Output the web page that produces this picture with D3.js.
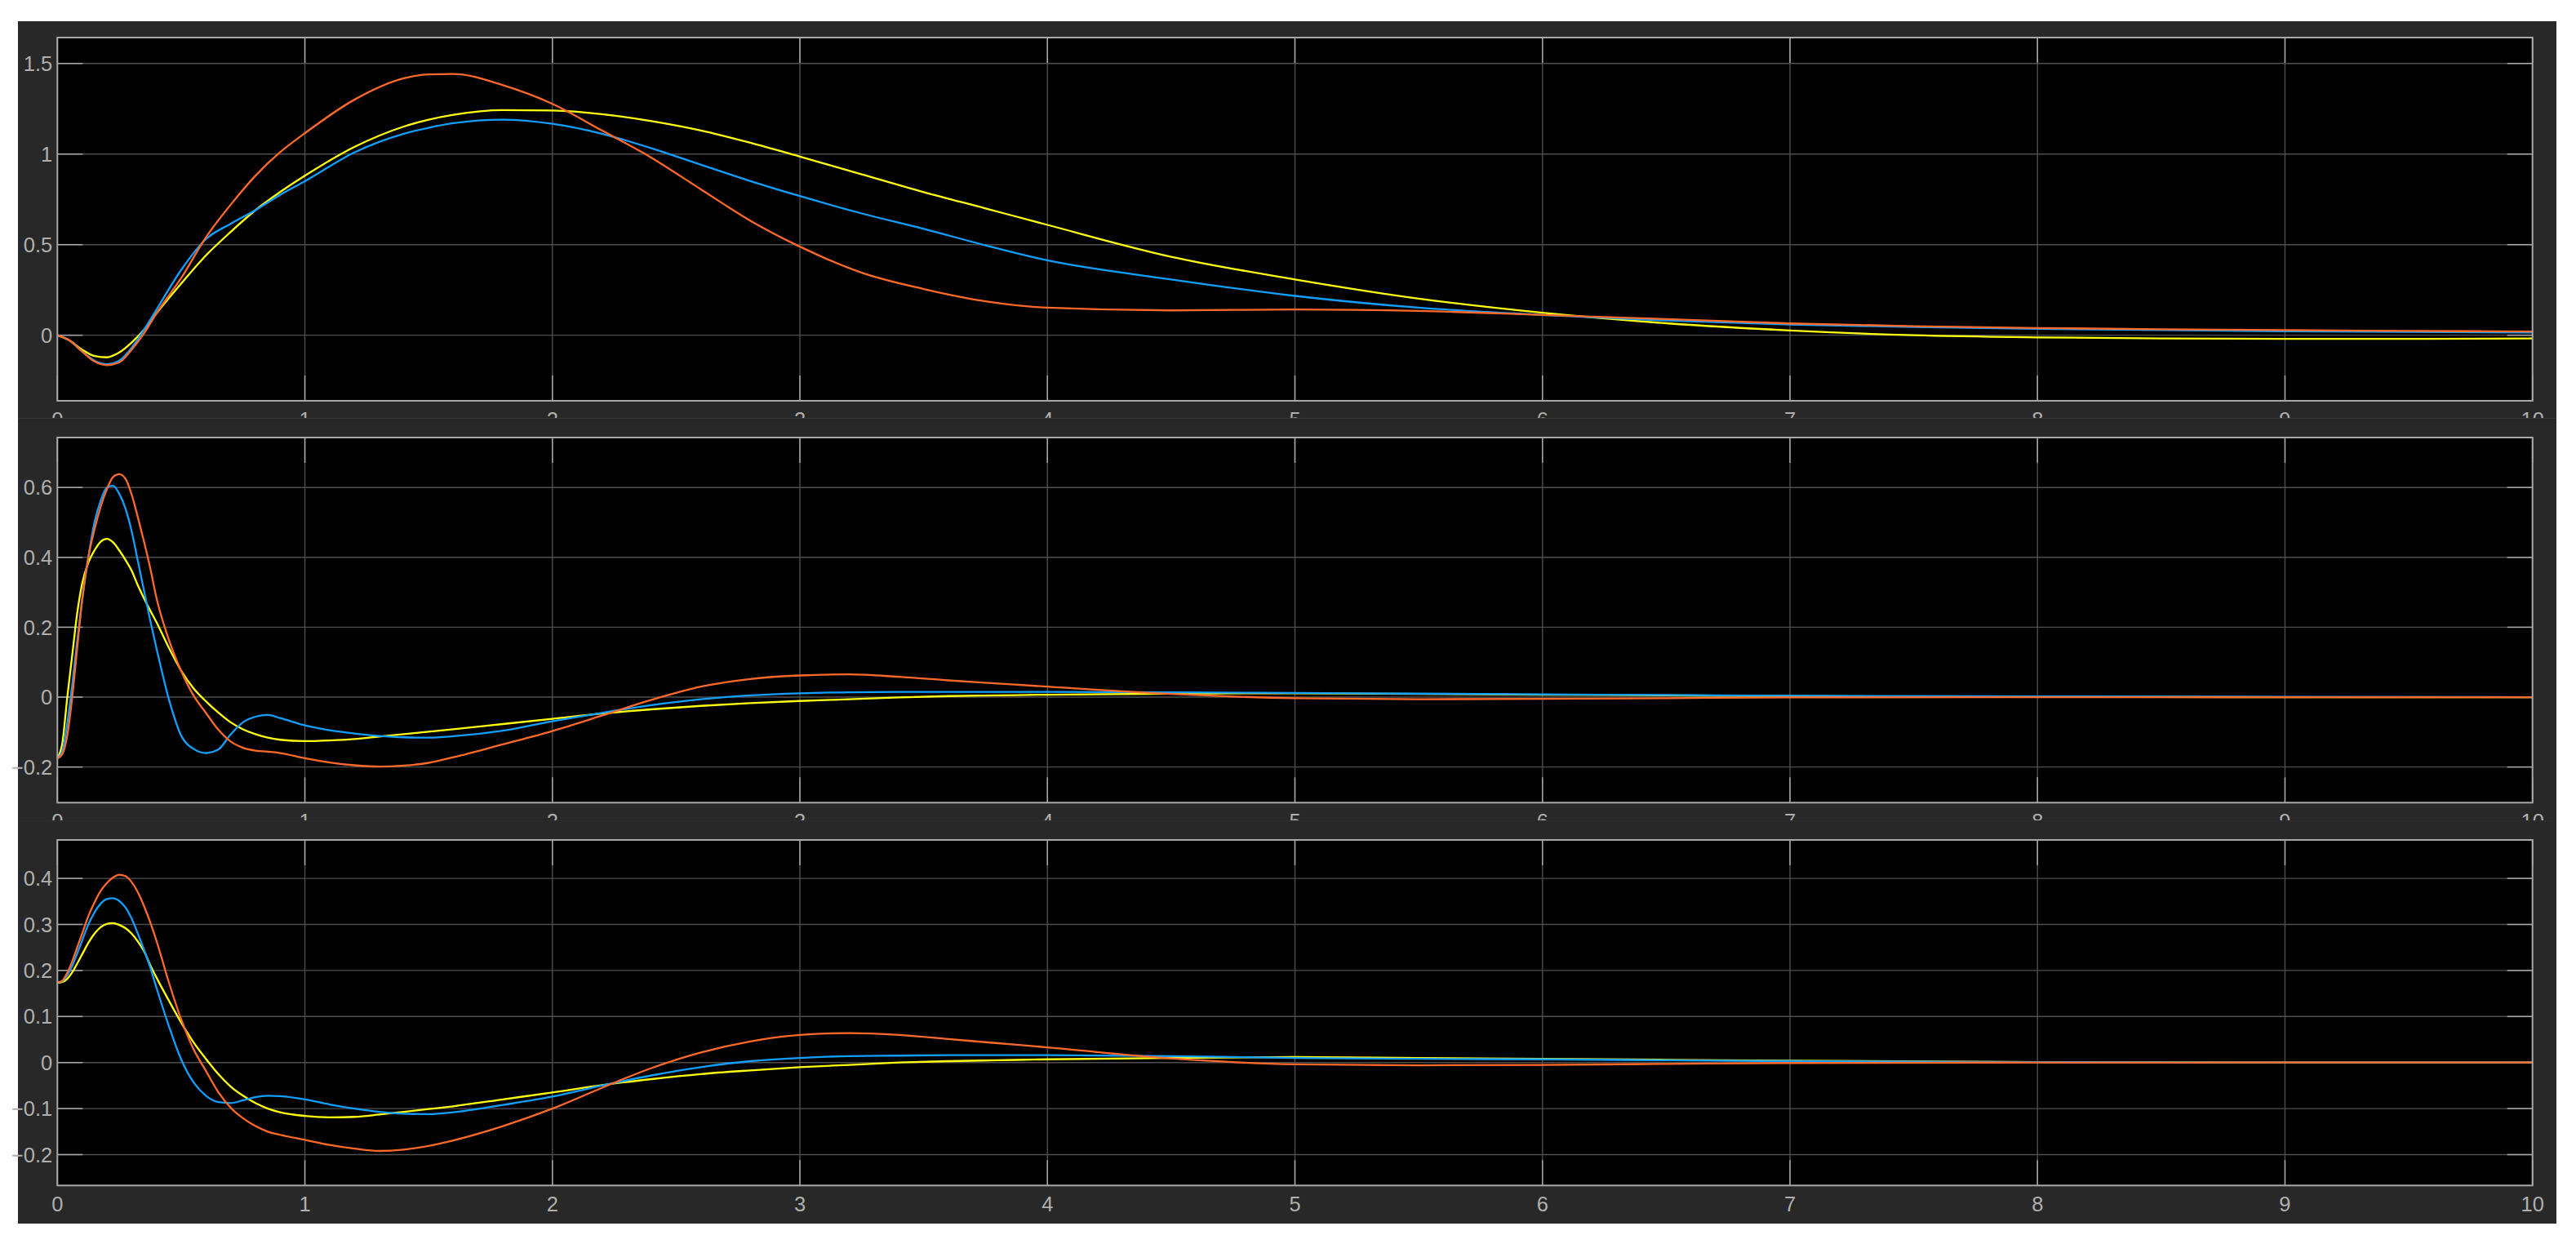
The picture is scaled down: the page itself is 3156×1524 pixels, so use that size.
<!DOCTYPE html>
<html>
<head>
<meta charset="utf-8">
<script src="https://cdn.jsdelivr.net/npm/d3@7/dist/d3.min.js"></script>
<style>
  body { margin: 0; background: #ffffff; }
  text { font-family: "Liberation Sans", Arial, Helvetica, sans-serif; }
</style>
</head>
<body>
<div id="container"></div>
<script>
/* DATA */
const xTicks = [0, 1, 2, 3, 4, 5, 6, 7, 8, 9, 10];

// top scope
const time1 = [0, 0.05, 0.1, 0.15, 0.2, 0.25, 0.3, 0.35, 0.4, 0.5, 0.6, 0.7, 0.8, 0.9, 1.0, 1.2, 1.4, 1.5, 1.6, 1.8,
  2.0, 2.2, 2.4, 2.6, 2.8, 3.0, 3.25, 3.5, 3.75, 4.0, 4.5, 5, 5.5, 6, 6.5, 7, 7.5, 8, 8.5, 9, 9.5, 10];
const yellow1 = [0, -0.03, -0.08, -0.115, -0.122, -0.095, -0.04, 0.03, 0.12, 0.285, 0.44, 0.57, 0.69, 0.79, 0.88,
  1.039, 1.152, 1.19, 1.217, 1.243, 1.24, 1.22, 1.182, 1.13, 1.062, 0.986, 0.888, 0.79, 0.70, 0.609,
  0.433, 0.308, 0.202, 0.124, 0.066, 0.026, 0.0, -0.012, -0.018, -0.02, -0.02, -0.018];
const blue1 = [0, -0.03, -0.09, -0.14, -0.16, -0.14, -0.07, 0.03, 0.14, 0.36, 0.53, 0.615, 0.69, 0.775, 0.85,
  1.009, 1.112, 1.145, 1.17, 1.19, 1.167, 1.112, 1.032, 0.941, 0.851, 0.768, 0.672, 0.587, 0.496, 0.413,
  0.308, 0.217, 0.152, 0.112, 0.081, 0.059, 0.045, 0.035, 0.028, 0.022, 0.018, 0.015];
const orange1 = [0, -0.03, -0.09, -0.145, -0.165, -0.15, -0.08, 0.01, 0.12, 0.315, 0.54, 0.72, 0.88, 1.01, 1.115,
  1.30, 1.418, 1.44, 1.442, 1.38, 1.277, 1.13, 0.98, 0.805, 0.632, 0.489, 0.345, 0.255, 0.187, 0.152,
  0.137, 0.142, 0.134, 0.112, 0.089, 0.065, 0.05, 0.04, 0.033, 0.028, 0.024, 0.02];
const yTicks1 = [0, 0.5, 1, 1.5];

// middle and bottom scopes share one time vector
const time23 = [0, 0.02, 0.04, 0.06, 0.08, 0.1, 0.125, 0.15, 0.175, 0.2, 0.225, 0.25, 0.275, 0.3, 0.325, 0.35,
  0.375, 0.4, 0.45, 0.5, 0.55, 0.6, 0.65, 0.7, 0.75, 0.8, 0.85, 0.9, 1.0, 1.1, 1.2, 1.3, 1.4, 1.5, 1.6,
  1.8, 2.0, 2.2, 2.4, 2.6, 2.8, 3.0, 3.2, 3.4, 3.6, 3.8, 4.0, 4.5, 5, 5.5, 6, 6.5, 7, 8, 9, 10];

const yellow2 = [-0.175, -0.132, 0.0, 0.12, 0.24, 0.325, 0.385, 0.42, 0.445, 0.453, 0.443, 0.42, 0.393, 0.362, 0.32, 0.283,
  0.248, 0.215, 0.142, 0.076, 0.025, -0.012, -0.044, -0.072, -0.092, -0.106, -0.116, -0.122, -0.126, -0.124, -0.12, -0.113, -0.106, -0.099, -0.092,
  -0.077, -0.062, -0.047, -0.035, -0.025, -0.017, -0.011, -0.006, -0.001, 0.003, 0.005, 0.007, 0.01, 0.011, 0.009, 0.007, 0.005, 0.003, 0.001, 0, 0];
const blue2 = [-0.175, -0.155, -0.075, 0.035, 0.16, 0.275, 0.40, 0.50, 0.562, 0.60, 0.605, 0.582, 0.54, 0.475, 0.39, 0.305,
  0.22, 0.141, -0.005, -0.11, -0.148, -0.16, -0.15, -0.107, -0.072, -0.056, -0.051, -0.06, -0.081, -0.095, -0.104, -0.111, -0.115, -0.116, -0.112,
  -0.096, -0.069, -0.045, -0.023, -0.006, 0.005, 0.011, 0.014, 0.015, 0.015, 0.015, 0.015, 0.014, 0.012, 0.01, 0.008, 0.006, 0.004, 0.002, 0.001, 0];
const orange2 = [-0.175, -0.163, -0.11, 0.0, 0.14, 0.28, 0.40, 0.48, 0.545, 0.595, 0.63, 0.638, 0.625, 0.58, 0.515, 0.445,
  0.37, 0.285, 0.165, 0.075, 0.005, -0.045, -0.093, -0.127, -0.145, -0.153, -0.156, -0.16, -0.175, -0.187, -0.195, -0.199, -0.196, -0.188, -0.172,
  -0.135, -0.097, -0.053, -0.008, 0.03, 0.052, 0.062, 0.065, 0.058, 0.048, 0.039, 0.03, 0.009, -0.003, -0.006, -0.005, -0.003, -0.001, 0, 0, 0];
const yTicks2 = [-0.2, 0, 0.2, 0.4, 0.6];

const yellow3 = [0.173, 0.175, 0.182, 0.196, 0.215, 0.235, 0.26, 0.28, 0.294, 0.301, 0.303, 0.299, 0.292, 0.28, 0.263, 0.242,
  0.212, 0.185, 0.135, 0.087, 0.044, 0.008, -0.025, -0.052, -0.072, -0.088, -0.1, -0.108, -0.116, -0.119, -0.118, -0.113, -0.107, -0.101, -0.095,
  -0.08, -0.065, -0.049, -0.036, -0.025, -0.017, -0.01, -0.005, 0.0, 0.003, 0.005, 0.007, 0.01, 0.012, 0.01, 0.008, 0.006, 0.004, 0.001, 0, 0];
const blue3 = [0.174, 0.177, 0.19, 0.21, 0.237, 0.265, 0.3, 0.326, 0.345, 0.355, 0.357, 0.351, 0.337, 0.313, 0.28, 0.245,
  0.207, 0.163, 0.08, 0.007, -0.043, -0.072, -0.086, -0.088, -0.082, -0.075, -0.072, -0.073, -0.08, -0.091, -0.1, -0.107, -0.111, -0.112, -0.108,
  -0.092, -0.074, -0.05, -0.028, -0.01, 0.003, 0.01, 0.014, 0.015, 0.016, 0.016, 0.016, 0.014, 0.01, 0.008, 0.007, 0.005, 0.003, 0.001, 0, 0];
const orange3 = [0.174, 0.178, 0.195, 0.22, 0.25, 0.28, 0.318, 0.348, 0.373, 0.39, 0.402, 0.408, 0.405, 0.392, 0.37, 0.34,
  0.305, 0.265, 0.175, 0.094, 0.029, -0.018, -0.064, -0.098, -0.121, -0.138, -0.15, -0.157, -0.168, -0.179, -0.187, -0.192, -0.189, -0.181, -0.169,
  -0.138, -0.1, -0.055, -0.012, 0.022, 0.046, 0.06, 0.064, 0.06, 0.051, 0.042, 0.033, 0.009, -0.004, -0.006, -0.005, -0.003, -0.001, 0, 0, 0];
const yTicks3 = [-0.2, -0.1, 0, 0.1, 0.2, 0.3, 0.4];

const seriesColors = { yellow: "#ffff11", blue: "#139fff", orange: "#ff6929" };

/* CONSTANTS AND GLOBALS */
const width = 3156,
  height = 1524,
  frameLeft = 22,
  frameRight = 3132,
  plotLeft = 70.3,
  plotRight = 3102.7,
  tickLen = 31;

const panels = [
  { frameTop: 26, frameBottom: 512, top: 46, bottom: 491, domain: [-0.362, 1.643], ticks: yTicks1,
    time: time1, series: [["yellow", yellow1], ["blue", blue1], ["orange", orange1]] },
  { frameTop: 512, frameBottom: 1005, top: 536, bottom: 983.3, domain: [-0.302, 0.743], ticks: yTicks2,
    time: time23, series: [["yellow", yellow2], ["blue", blue2], ["orange", orange2]] },
  { frameTop: 1005, frameBottom: 1499, top: 1029, bottom: 1452.3, domain: [-0.267, 0.4835], ticks: yTicks3,
    time: time23, series: [["yellow", yellow3], ["blue", blue3], ["orange", orange3]] }
];

// CREATE SVG ELEMENT
const svg = d3.select("#container")
  .append("svg")
  .attr("width", width)
  .attr("height", height)
  .style("display", "block");

svg.append("rect")
  .attr("width", width)
  .attr("height", height)
  .attr("fill", "#ffffff");

const xScale = d3.scaleLinear()
  .domain([0, 10])
  .range([plotLeft, plotRight]);

panels.forEach((p, i) => {
  const g = svg.append("g");

  // scope frame (covers the tick labels of the scope above)
  g.append("rect")
    .attr("x", frameLeft)
    .attr("y", p.frameTop)
    .attr("width", frameRight - frameLeft)
    .attr("height", p.frameBottom - p.frameTop)
    .attr("fill", "#282828");
  if (i > 0) {
    g.append("line")
      .attr("x1", frameLeft).attr("x2", frameRight)
      .attr("y1", p.frameTop + 0.5).attr("y2", p.frameTop + 0.5)
      .attr("stroke", i === 1 ? "#363636" : "#2c2c2c")
      .attr("stroke-width", 1);
  }

  const yScale = d3.scaleLinear()
    .domain(p.domain)
    .range([p.bottom, p.top]);

  g.append("rect")
    .attr("x", plotLeft)
    .attr("y", p.top)
    .attr("width", plotRight - plotLeft)
    .attr("height", p.bottom - p.top)
    .attr("fill", "#000000");

  // GRID
  g.append("g")
    .selectAll("line")
    .data(xTicks.slice(1, -1))
    .join("line")
    .attr("x1", d => xScale(d)).attr("x2", d => xScale(d))
    .attr("y1", p.top).attr("y2", p.bottom)
    .attr("stroke", "#4e4e4e")
    .attr("stroke-width", 1.4);

  g.append("g")
    .selectAll("line")
    .data(p.ticks)
    .join("line")
    .attr("x1", plotLeft).attr("x2", plotRight)
    .attr("y1", d => yScale(d)).attr("y2", d => yScale(d))
    .attr("stroke", "#4e4e4e")
    .attr("stroke-width", 1.4);

  // TICK MARKS (inside, all four sides)
  const tickG = g.append("g")
    .attr("stroke", "#a8a8a8")
    .attr("stroke-width", 1.5);
  p.ticks.forEach(v => {
    const y = yScale(v);
    tickG.append("line").attr("x1", plotLeft).attr("x2", plotLeft + tickLen).attr("y1", y).attr("y2", y);
    tickG.append("line").attr("x1", plotRight - tickLen).attr("x2", plotRight).attr("y1", y).attr("y2", y);
  });
  xTicks.forEach(v => {
    const x = xScale(v);
    tickG.append("line").attr("x1", x).attr("x2", x).attr("y1", p.bottom - tickLen).attr("y2", p.bottom);
    tickG.append("line").attr("x1", x).attr("x2", x).attr("y1", p.top).attr("y2", p.top + tickLen);
  });

  // LINE GENERATOR FUNCTION
  const clipId = "clip" + i;
  g.append("clipPath")
    .attr("id", clipId)
    .append("rect")
    .attr("x", plotLeft)
    .attr("y", p.top)
    .attr("width", plotRight - plotLeft)
    .attr("height", p.bottom - p.top);

  const lineGen = d3.line()
    .x((d, j) => xScale(p.time[j]))
    .y(d => yScale(d))
    .curve(d3.curveMonotoneX);

  g.append("g")
    .attr("clip-path", `url(#${clipId})`)
    .selectAll(".line")
    .data(p.series)
    .join("path")
    .attr("class", "line")
    .attr("d", d => lineGen(d[1]))
    .attr("fill", "none")
    .attr("stroke", d => seriesColors[d[0]])
    .attr("stroke-width", 2.3)
    .attr("stroke-linejoin", "round");

  // AXES BOX
  g.append("rect")
    .attr("x", plotLeft)
    .attr("y", p.top)
    .attr("width", plotRight - plotLeft)
    .attr("height", p.bottom - p.top)
    .attr("fill", "none")
    .attr("stroke", "#a8a8a8")
    .attr("stroke-width", 2);

  // TICK LABELS
  g.append("g")
    .selectAll("text")
    .data(p.ticks)
    .join("text")
    .attr("x", plotLeft - 6)
    .attr("y", d => yScale(d))
    .attr("dy", "0.36em")
    .attr("text-anchor", "end")
    .attr("font-size", 25.5)
    .attr("fill", "#afafaf")
    .text(d => d3.format("")(+d.toFixed(2)));

  g.append("g")
    .selectAll("text")
    .data(xTicks)
    .join("text")
    .attr("x", d => xScale(d))
    .attr("y", p.bottom + 31.5)
    .attr("text-anchor", "middle")
    .attr("font-size", 25.5)
    .attr("fill", "#afafaf")
    .text(d => d);
});
</script>
</body>
</html>
